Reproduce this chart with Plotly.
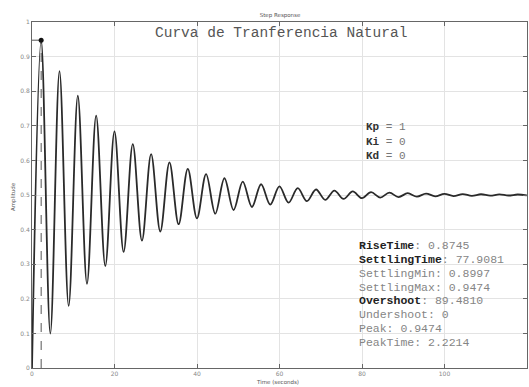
import plotly.graph_objects as go

# Step response extrema (time in seconds, amplitude), starting from rest
t_points = [0.0, 2.221, 4.443, 6.664, 8.886, 11.107, 13.328, 15.550, 17.771, 19.993,
            22.214, 24.435, 26.657, 28.878, 31.100, 33.321, 35.542, 37.764, 39.985,
            42.207, 44.428, 46.649, 48.871, 51.092, 53.314, 55.535, 57.756, 59.978,
            62.199, 64.421, 66.642, 68.863, 71.085, 73.306, 75.528, 77.749, 79.970,
            82.192, 84.413, 86.635, 88.856, 91.077, 93.299, 95.520, 97.742, 99.963,
            102.184, 104.406, 106.627, 108.849, 111.070, 113.291, 115.513, 117.734,
            119.956]
y_points = [0.0, 0.9474, 0.0997, 0.8582, 0.1795, 0.7868, 0.2434, 0.7296, 0.2945, 0.6839,
            0.3355, 0.6472, 0.3683, 0.6179, 0.3945, 0.5944, 0.4156, 0.5756, 0.4324,
            0.5605, 0.4459, 0.5484, 0.4567, 0.5388, 0.4653, 0.5311, 0.4722, 0.5249,
            0.4778, 0.5199, 0.4822, 0.5159, 0.4857, 0.5128, 0.4886, 0.5102, 0.4909,
            0.5082, 0.4927, 0.5066, 0.4941, 0.5052, 0.4953, 0.5042, 0.4962, 0.5034,
            0.4970, 0.5027, 0.4976, 0.5022, 0.4981, 0.5017, 0.4985, 0.5014, 0.4988]

peak_time = 2.2214
peak_value = 0.9474

x_ticks = [0, 20, 40, 60, 80, 100, 120]
y_ticks = [0, 0.1, 0.2, 0.3, 0.4, 0.5, 0.6, 0.7, 0.8, 0.9, 1]
y_tick_text = ["0", "0.1", "0.2", "0.3", "0.4", "0.5", "0.6", "0.7", "0.8", "0.9", "1"]

gains = [("Kp", "1"), ("Ki", "0"), ("Kd", "0")]
stats = [("RiseTime", "0.8745", True),
         ("SettlingTime", "77.9081", True),
         ("SettlingMin", "0.8997", False),
         ("SettlingMax", "0.9474", False),
         ("Overshoot", "89.4810", True),
         ("Undershoot", "0", False),
         ("Peak", "0.9474", False),
         ("PeakTime", "2.2214", False)]

MONO = "Liberation Mono"
W, H = 529, 387
L, R, T, B = 32, 2, 22, 19

fig = go.Figure()

# peak time / peak value guides
fig.add_trace(go.Scatter(x=[peak_time, peak_time], y=[0, peak_value], mode="lines",
                         line=dict(color="#555", width=1, dash="dash"),
                         hoverinfo="skip", showlegend=False))
fig.add_trace(go.Scatter(x=[0, peak_time], y=[peak_value, peak_value], mode="lines",
                         line=dict(color="#555", width=1, dash="dash"),
                         hoverinfo="skip", showlegend=False))

# response curve
fig.add_trace(go.Scatter(x=t_points, y=y_points, mode="lines",
                         line=dict(color="#2a2a2a", width=1.8, shape="spline", smoothing=1.0),
                         showlegend=False))

# peak marker
fig.add_trace(go.Scatter(x=[peak_time], y=[peak_value], mode="markers",
                         marker=dict(color="#111", size=5),
                         showlegend=False))

ann = []

def py(pixel_y):
    return 1 - (pixel_y - T) / (H - T - B)

def px(pixel_x):
    return (pixel_x - L) / (W - L - R)

ann.append(dict(text="Curva de Tranferencia Natural", x=px(281), y=py(33),
                xref="paper", yref="paper", showarrow=False,
                font=dict(family=MONO, size=14.5, color="#555"),
                xanchor="center", yanchor="middle"))

for i, (name, val) in enumerate(gains):
    ann.append(dict(text=f"<b><span style='color:#333'>{name}</span></b> = {val}",
                    x=px(364), y=py(127 + 14.5 * i),
                    xref="paper", yref="paper", showarrow=False,
                    font=dict(family=MONO, size=11, color="#777"),
                    xanchor="left", yanchor="middle"))

for i, (name, val, bold) in enumerate(stats):
    if bold:
        label = f"<b><span style='color:#222'>{name}</span></b>"
    else:
        label = name
    ann.append(dict(text=f"{label}: {val}", x=px(357), y=py(245.7 + 13.8 * i),
                    xref="paper", yref="paper", showarrow=False,
                    font=dict(family=MONO, size=11.5, color="#858585"),
                    xanchor="left", yanchor="middle"))

ann.append(dict(text="Time (seconds)", x=px(277), y=1 - (382 - T) / (H - T - B),
                xref="paper", yref="paper", showarrow=False,
                font=dict(family="DejaVu Sans", size=5.5, color="#555"),
                xanchor="center", yanchor="middle"))
ann.append(dict(text="Amplitude", x=(13 - L) / (W - L - R), y=py(197),
                xref="paper", yref="paper", showarrow=False, textangle=-90,
                font=dict(family="DejaVu Sans", size=5.5, color="#555"),
                xanchor="center", yanchor="middle"))

fig.update_layout(
    width=W, height=H,
    margin=dict(l=L, r=R, t=T, b=B),
    paper_bgcolor="white", plot_bgcolor="white",
    title=dict(text="Step Response", x=280 / W, y=1 - 15 / H,
               xanchor="center", yanchor="middle", xref="container", yref="container",
               font=dict(family="DejaVu Sans", size=5.5, color="#555")),
    annotations=ann,
    xaxis=dict(range=[0, 120], tickvals=x_ticks, ticks="inside", ticklen=4,
               tickcolor="#666", showline=True, linecolor="#666", linewidth=1,
               mirror="ticks", showgrid=True, gridcolor="#e3e3e3", gridwidth=1,
               zeroline=False, tickfont=dict(family="DejaVu Sans", size=6, color="#888")),
    yaxis=dict(range=[0, 1], tickvals=y_ticks, ticktext=y_tick_text, ticks="inside",
               ticklen=4, tickcolor="#666", showline=True, linecolor="#666", linewidth=1,
               mirror="ticks", showgrid=True, gridcolor="#e3e3e3", gridwidth=1,
               zeroline=False, tickfont=dict(family="DejaVu Sans", size=6, color="#888")),
)

fig.write_html("out.html")
